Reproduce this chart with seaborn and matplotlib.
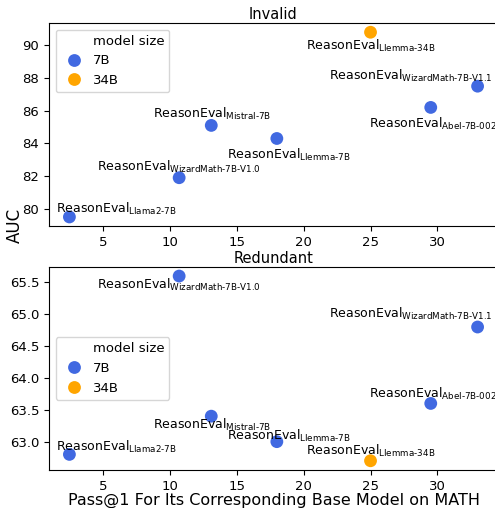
import seaborn as sns
import matplotlib.pyplot as plt
import pandas as pd
from matplotlib.lines import Line2D

# datos
models = ['Llama2-7B', 'WizardMath-7B-V1.0', 'Mistral-7B', 'Llemma-7B',
          'Llemma-34B', 'Abel-7B-002', 'WizardMath-7B-V1.1']
sizes = ['7B', '7B', '7B', '7B', '34B', '7B', '7B']
pass1 = [2.5, 10.7, 13.1, 18.0, 25.0, 29.5, 33.0]
auc_invalid = [79.5, 81.9, 85.1, 84.3, 90.8, 86.2, 87.5]
auc_redundant = [62.8, 65.6, 63.4, 63.0, 62.7, 63.6, 64.8]

# desplazamiento de las etiquetas (pixeles)
off_invalid = [(47, 8), (0, 11), (1, 11), (12, -16), (0, -14), (2, -17), (-67, 10)]
off_redundant = [(47, 7), (0, -9), (1, -9), (12, 6), (0, 10), (2, 9), (-67, 13)]

palette = {'7B': 'royalblue', '34B': 'orange'}

fig, axes = plt.subplots(2, 1, figsize=(4.95, 5.08), dpi=100)
plt.subplots_adjust(left=49/495, right=498/495, top=1-23/508,
                    bottom=1-470/508, hspace=0.2)

panels = [('Invalid', auc_invalid, off_invalid, 'upper left'),
          ('Redundant', auc_redundant, off_redundant, 'center left')]

for ax, (title, auc, offs, loc) in zip(axes, panels):
    df = pd.DataFrame({'x': pass1, 'y': auc, 'model size': sizes})
    sns.scatterplot(data=df, x='x', y='y', hue='model size', palette=palette,
                    hue_order=['7B', '34B'], s=85, linewidth=0, ax=ax)
    for m, x, y, (dx, dy) in zip(models, pass1, auc, offs):
        ax.annotate(r'ReasonEval$_{\text{%s}}$' % m, (x, y), xytext=(dx, dy),
                    textcoords='offset pixels', ha='center', va='center',
                    fontsize=9)
    ax.set_title(title, fontsize=10.5, pad=3)
    ax.set_xlabel('')
    ax.set_ylabel('')
    ax.tick_params(labelsize=9.5)
    handles, labels = ax.get_legend_handles_labels()
    blank = Line2D([], [], linestyle='none', marker=None)
    ax.legend([blank] + handles, ['model size'] + labels, loc=loc,
              fontsize=9.5, handletextpad=0.4)

axes[1].set_xlabel('Pass@1 For Its Corresponding Base Model on MATH',
                   fontsize=11.5, labelpad=0)
fig.text(15/495, 1-225.5/508, 'AUC', rotation=90, ha='center', va='center', fontsize=12)

plt.savefig('out.png', dpi=100)
